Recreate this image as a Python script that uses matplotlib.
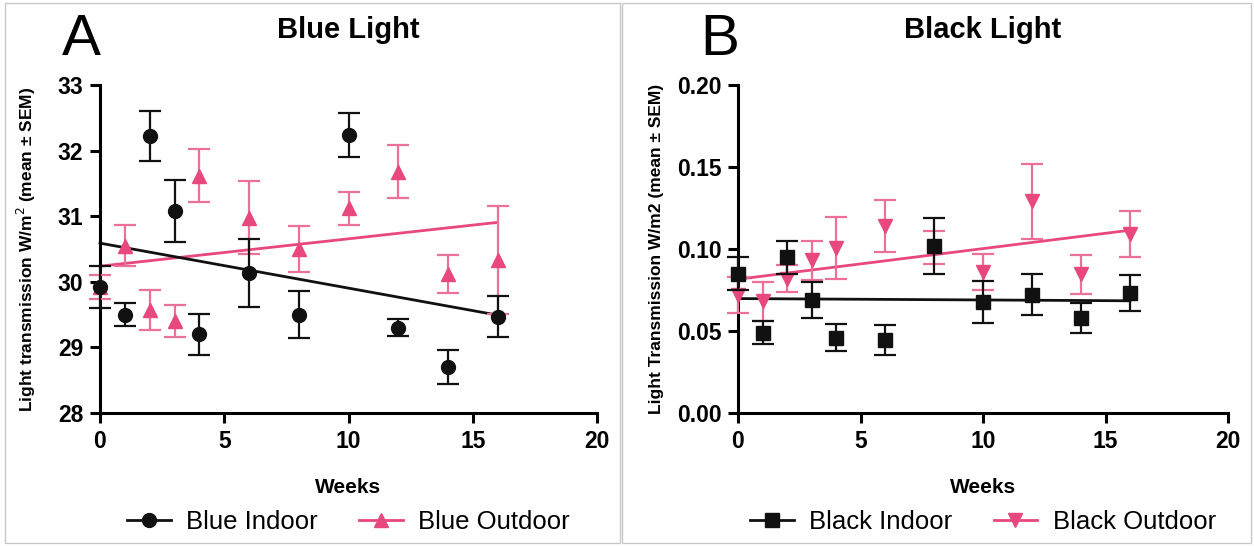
import matplotlib.pyplot as plt
import numpy as np
from matplotlib.lines import Line2D
from matplotlib.patches import Rectangle

weeks = np.array([0, 1, 2, 3, 4, 6, 8, 10, 12, 14, 16])

# panel A - blue light (W/m2)
blue_indoor = [29.92, 29.50, 32.22, 31.08, 29.20, 30.14, 29.50, 32.24, 29.30, 28.70, 29.47]
blue_indoor_sem = [0.32, 0.17, 0.38, 0.47, 0.31, 0.52, 0.36, 0.33, 0.13, 0.26, 0.31]
blue_outdoor = [29.92, 30.55, 29.57, 29.40, 31.62, 30.98, 30.50, 31.12, 31.68, 30.12, 30.33]
blue_outdoor_sem = [0.18, 0.31, 0.30, 0.24, 0.41, 0.55, 0.35, 0.25, 0.41, 0.29, 0.82]

# panel B - black light
black_indoor = [0.085, 0.049, 0.095, 0.069, 0.046, 0.0445, 0.102, 0.0676, 0.072, 0.058, 0.073]
black_indoor_sem = [0.010, 0.007, 0.010, 0.011, 0.008, 0.009, 0.017, 0.013, 0.0125, 0.009, 0.011]
black_outdoor = [0.072, 0.068, 0.082, 0.093, 0.1006, 0.114, 0.101, 0.086, 0.129, 0.0846, 0.109]
black_outdoor_sem = [0.011, 0.012, 0.008, 0.012, 0.019, 0.016, 0.010, 0.011, 0.023, 0.012, 0.014]

BLACK = "#111111"
PINK = "#E8487E"
PINK_ERR = "#EC7199"

plt.rcParams["font.family"] = ["Liberation Sans", "DejaVu Sans"]

fig = plt.figure(figsize=(12.54, 5.46), dpi=100)
W, H = 1254, 546


def panel(left, right, letter, title, ylabel, ylab_off, s1, e1, s2, e2, m1, m2,
          labels, yticks, yfmt):
    ax = fig.add_axes([left / W, 1 - 413 / H, (right - left) / W, 328 / H])
    # pink drawn first, black on top
    for y, e, m, c, ec, z in [(s2, e2, m2, PINK, PINK_ERR, 3), (s1, e1, m1, BLACK, BLACK, 4)]:
        ax.errorbar(weeks, y, yerr=e, fmt=m, color=c, ecolor=ec, ms=10,
                    capsize=8, elinewidth=1.6, capthick=1.6, zorder=z)
        k, b = np.polyfit(weeks, y, 1)
        xs = np.array([0, 16])
        ax.plot(xs, k * xs + b, color=c, lw=2, zorder=2)
    ax.set_xlim(0, 20)
    ax.set_ylim(yticks[0], yticks[-1])
    ax.set_xticks([0, 5, 10, 15, 20])
    ax.set_yticks(yticks)
    ax.set_yticklabels([yfmt.format(v) for v in yticks])
    ax.spines[["top", "right"]].set_visible(False)
    for s in ["left", "bottom"]:
        ax.spines[s].set_linewidth(2.2)
    for art in ax.get_children():
        art.set_clip_on(False)
    ax.tick_params(width=2.2, length=7, labelsize=16.5, pad=5)
    for t in ax.get_xticklabels() + ax.get_yticklabels():
        t.set_fontweight("bold")
    ax.set_xlabel("Weeks", fontsize=15, fontweight="bold")
    ax.xaxis.set_label_coords(0.5, (413 - 478) / 328)
    ax.set_ylabel(ylabel, fontsize=12.5, fontweight="bold")
    ax.yaxis.set_label_coords(-ylab_off / (right - left), 0.5)
    cx = (left + right) / 2
    fig.text(cx / W, 1 - 30 / H, title, ha="center", va="center", fontsize=21, fontweight="bold")
    fig.text((left - 38) / W, 1 - 40 / H, letter, ha="left", va="center", fontsize=42)
    handles = [Line2D([], [], color=BLACK, marker=m1, ms=10, lw=2),
               Line2D([], [], color=PINK, marker=m2, ms=10, lw=2)]
    ax.legend(handles, labels, loc="center", bbox_to_anchor=(0.5, (413 - 522) / 328),
              ncol=2, frameon=False, fontsize=18.5, handlelength=1.7,
              handletextpad=0.6, columnspacing=1.6)
    return ax


panel(100, 597, "A", "Blue Light", "Light transmission W/m$^2$ (mean ± SEM)", 62,
      blue_indoor, blue_indoor_sem, blue_outdoor, blue_outdoor_sem, "o", "^",
      ["Blue Indoor", "Blue Outdoor"], [28, 29, 30, 31, 32, 33], "{:.0f}")
panel(738, 1228, "B", "Black Light", "Light Transmission W/m2 (mean ± SEM)", 74,
      black_indoor, black_indoor_sem, black_outdoor, black_outdoor_sem, "s", "v",
      ["Black Indoor", "Black Outdoor"], [0.0, 0.05, 0.10, 0.15, 0.20], "{:.2f}")

# thin panel frames
for x0, x1 in [(5, 620), (622, 1251)]:
    fig.patches.append(Rectangle((x0 / W, 3 / H), (x1 - x0) / W, (H - 6) / H,
                                 transform=fig.transFigure, fill=False,
                                 ec="#c8c8c8", lw=1))

fig.savefig("out.png", dpi=100)
